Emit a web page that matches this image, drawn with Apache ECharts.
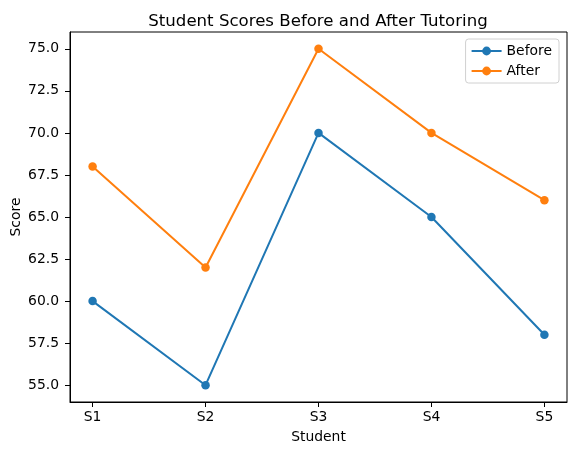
<!DOCTYPE html>
<html>
<head>
<meta charset="utf-8">
<script src="https://cdn.jsdelivr.net/npm/echarts@6/dist/echarts.min.js"></script>
<style>
  html, body { margin: 0; padding: 0; background: #fff; }
  #chart { width: 576px; height: 455px; }
</style>
</head>
<body>
<div id="chart"></div>
<script>
// data
let students = ['S1', 'S2', 'S3', 'S4', 'S5'];
let before = [60, 55, 70, 65, 58];
let after = [68, 62, 75, 70, 66];
let yTicks = [55, 57.5, 60, 62.5, 65, 67.5, 70, 72.5, 75];

let chart = echarts.init(document.getElementById('chart'));

let font = 'DejaVu Sans';

// pair each value with its category index
function toPoints(vals) {
    let pts = [];
    for (let i = 0; i < vals.length; i++) {
        pts.push([i, vals[i]]);
    }
    return pts;
}

let option = {
    animation: false,
    backgroundColor: '#fff',
    textStyle: { fontFamily: font },
    title: {
        text: 'Student Scores Before and After Tutoring',
        left: 313,
        textAlign: 'center',
        top: 8,
        textStyle: { fontFamily: font, fontSize: 16.6, fontWeight: 'normal', color: '#000' }
    },
    legend: {
        right: 17,
        top: 39,
        orient: 'vertical',
        itemWidth: 30,
        itemHeight: 11,
        itemGap: 6,
        padding: [5, 7, 5, 5],
        backgroundColor: '#fff',
        borderColor: '#d0d0d0',
        borderWidth: 1,
        borderRadius: 3,
        textStyle: { fontFamily: font, fontSize: 13.9, color: '#000' },
        data: ['Before', 'After']
    },
    grid: {
        left: 70,
        right: 9,
        top: 32,
        bottom: 53,
        outerBoundsMode: 'none',
        show: true,
        borderColor: '#000',
        borderWidth: 1
    },
    xAxis: {
        type: 'value',
        min: -0.2,
        max: 4.2,
        name: 'Student',
        nameLocation: 'middle',
        nameGap: 28,
        nameMoveOverlap: false,
        nameTextStyle: { fontFamily: font, fontSize: 13.9, color: '#000' },
        splitLine: { show: false },
        axisLine: { show: true, onZero: false, lineStyle: { color: '#000', width: 1 } },
        axisTick: {
            show: true, length: 5, inside: false,
            customValues: [0, 1, 2, 3, 4],
            lineStyle: { color: '#000', width: 1 }
        },
        axisLabel: {
            customValues: [0, 1, 2, 3, 4],
            margin: 8,
            fontFamily: font, fontSize: 13.9, color: '#000',
            formatter: function (v) { return students[Math.round(v)]; }
        }
    },
    yAxis: {
        type: 'value',
        min: 54,
        max: 76,
        name: 'Score',
        nameLocation: 'middle',
        nameGap: 47,
        nameMoveOverlap: false,
        nameRotate: 90,
        nameTextStyle: { fontFamily: font, fontSize: 13.9, color: '#000' },
        splitLine: { show: false },
        axisLine: { show: true, onZero: false, lineStyle: { color: '#000', width: 1 } },
        axisTick: {
            show: true, length: 5, inside: false,
            customValues: yTicks,
            lineStyle: { color: '#000', width: 1 }
        },
        axisLabel: {
            customValues: yTicks,
            margin: 11,
            fontFamily: font, fontSize: 13.9, color: '#000',
            formatter: function (v) { return v.toFixed(1); }
        }
    },
    series: [
        {
            name: 'Before',
            type: 'line',
            data: toPoints(before),
            color: '#1f77b4',
            symbol: 'circle',
            symbolSize: 8.5,
            lineStyle: { width: 2 },
            itemStyle: { color: '#1f77b4' }
        },
        {
            name: 'After',
            type: 'line',
            data: toPoints(after),
            color: '#ff7f0e',
            symbol: 'circle',
            symbolSize: 8.5,
            lineStyle: { width: 2 },
            itemStyle: { color: '#ff7f0e' }
        }
    ]
};

chart.setOption(option);
</script>
</body>
</html>
